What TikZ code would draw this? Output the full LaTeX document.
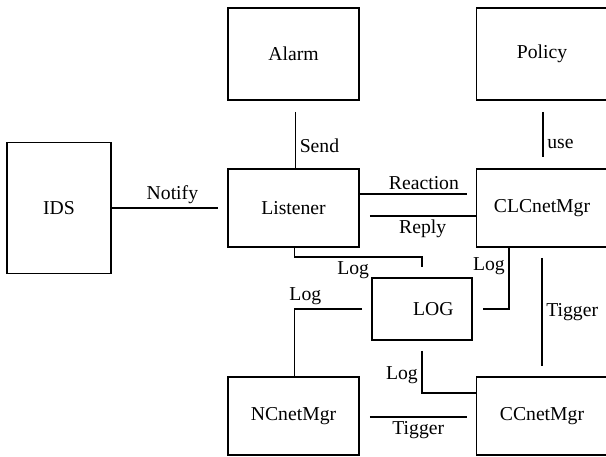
\documentclass[tikz,border=0pt]{standalone}
\usepackage{fontspec}
\setmainfont{Liberation Serif}
\usetikzlibrary{calc}

\begin{document}
\begin{tikzpicture}[
  x=0.025cm, y=-0.025cm,
  box/.style={draw, line width=1.1pt, minimum width=3.28cm, minimum height=1.95cm, inner sep=0pt, font=\fontsize{14}{16}\selectfont},
  link/.style={line width=1.1pt},
  lbl/.style={font=\fontsize{14}{16}\selectfont, inner sep=2.5pt}
]
\useasboundingbox (0,0) rectangle (606,456);

\node[box, minimum width=2.6cm, minimum height=3.28cm] (ids) at (59,208) {IDS};
\node[box, minimum height=2.3cm] (alarm) at (293.5,54) {Alarm};
\node[box, minimum height=2.3cm] (policy) at (542,54) {Policy};
\node[box] (listener) at (293.5,208) {Listener};
\node[box] (clc) at (542,208) {CLCnetMgr};
\node[box, minimum width=2.5cm, minimum height=1.55cm] (log) at (422,309) {\hspace{16pt}LOG};
\node[box] (nc) at (293.5,416) {NCnetMgr};
\node[box] (cc) at (542,416) {CCnetMgr};

\draw[link] (ids.east) -- ($(listener.west)+(-9,0)$) node[lbl, pos=0.57, above] {Notify};
\draw[link] ($(alarm.south)+(2,11)$) -- ($(listener.north)+(2,0)$) node[lbl, pos=0.6, right] {Send};
\draw[link] ($(policy.south)+(1,11)$) -- ($(clc.north)+(1,-11)$) node[lbl, pos=0.7, right] {use};
\draw[link] ($(listener.east)+(0,-14)$) -- ($(clc.west)+(-9,-14)$) node[lbl, pos=0.6, above] {Reaction};
\draw[link] ($(listener.east)+(10,8)$) -- ($(clc.west)+(0,8)$) node[lbl, midway, below] {Reply};

\draw[link] ($(listener.south)+(1,0)$) |- ($(log.north)+(0,-20)$) node[lbl, pos=0.73, below] {Log} -- ($(log.north)+(0,-10)$);
\draw[link] ($(clc.south)+(-33,0)$) |- ($(log.east)+(10,0)$) node[lbl, pos=0.15, left] {Log};
\draw[link] ($(log.west)+(-9,0)$) -| ($(nc.north)+(1,0)$) node[lbl, pos=0.42, above] {Log};
\draw[link] ($(log.south)+(0,10)$) |- ($(cc.west)+(0,-23)$) node[lbl, pos=0.29, left] {Log};

\draw[link] ($(nc.east)+(10,1)$) -- ($(cc.west)+(-9,1)$) node[lbl, midway, below] {Tigger};
\draw[link] ($(clc.south)+(0,10)$) -- ($(cc.north)+(0,-10)$) node[lbl, midway, right] {Tigger};
\end{tikzpicture}
\end{document}
